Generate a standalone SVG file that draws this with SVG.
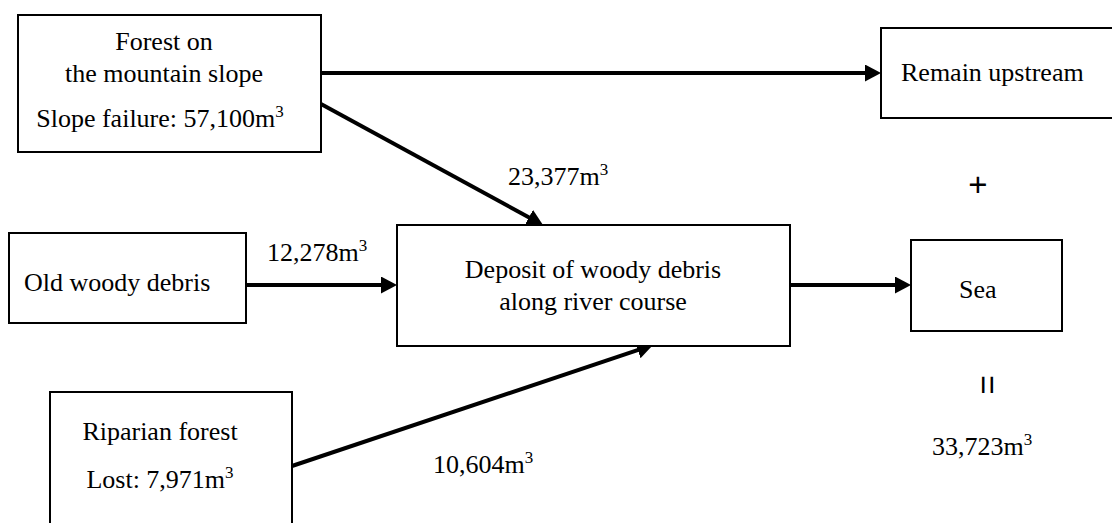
<svg xmlns="http://www.w3.org/2000/svg" width="1112" height="523" viewBox="0 0 1112 523">
<style>
.box{fill:#fff;stroke:#000;stroke-width:2}
.t{font-family:"Liberation Serif","Times New Roman",serif;font-size:26px;fill:#000}
.sup{font-size:17px}
.s{font-family:"Liberation Sans",Arial,sans-serif;font-size:33px;fill:#000}
.arr{stroke:#000;stroke-width:4;fill:none;marker-end:url(#ah)}
</style>
<defs>
<marker id="ah" markerUnits="userSpaceOnUse" markerWidth="17" markerHeight="18" refX="6" refY="8.5" orient="auto">
<path d="M0,0 L16,8.5 L0,17 z" fill="#000"/>
</marker>
</defs>
<rect width="1112" height="523" fill="#fff"/>
<g id="connectors">
<line class="arr" x1="321" y1="73" x2="871" y2="73"/>
<line class="arr" x1="321" y1="104" x2="534.2" y2="220.2"/>
<line class="arr" x1="246" y1="285" x2="387" y2="285"/>
<line class="arr" x1="292" y1="466" x2="643.5" y2="348.2"/>
<line class="arr" x1="790" y1="285" x2="901" y2="285"/>
</g>
<g id="forest">
<rect class="box" x="18" y="15" width="303" height="137"/>
<text class="t" x="164" y="50" text-anchor="middle">Forest on</text>
<text class="t" x="164" y="82" text-anchor="middle">the mountain slope</text>
<text class="t" x="160" y="127" text-anchor="middle">Slope failure: 57,100m<tspan class="sup" dy="-10">3</tspan></text>
</g>
<g id="remain">
<rect class="box" x="881" y="28" width="240" height="90"/>
<text class="t" x="901" y="81">Remain upstream</text>
</g>
<g id="old">
<rect class="box" x="9" y="233" width="237" height="90"/>
<text class="t" x="24" y="291">Old woody debris</text>
</g>
<g id="deposit">
<rect class="box" x="397" y="225" width="393" height="121"/>
<text class="t" x="593" y="278" text-anchor="middle">Deposit of woody debris</text>
<text class="t" x="593" y="310" text-anchor="middle">along river course</text>
</g>
<g id="sea">
<rect class="box" x="911" y="240" width="151" height="91"/>
<text class="t" x="959" y="298">Sea</text>
</g>
<g id="riparian">
<rect class="box" x="50" y="392" width="242" height="140"/>
<text class="t" x="160" y="440" text-anchor="middle">Riparian forest</text>
<text class="t" x="160" y="488" text-anchor="middle">Lost: 7,971m<tspan class="sup" dy="-10">3</tspan></text>
</g>
<g id="labels">
<text class="t" x="508" y="185">23,377m<tspan class="sup" dy="-10">3</tspan></text>
<text class="t" x="267" y="261">12,278m<tspan class="sup" dy="-10">3</tspan></text>
<text class="t" x="433" y="473">10,604m<tspan class="sup" dy="-10">3</tspan></text>
<text class="s" x="978" y="196" text-anchor="middle">+</text>
<text class="s" x="0" y="0" text-anchor="middle" transform="translate(986,385) rotate(90) translate(0,10.5)">=</text>
<text class="t" x="932" y="455">33,723m<tspan class="sup" dy="-10">3</tspan></text>
</g>
</svg>
